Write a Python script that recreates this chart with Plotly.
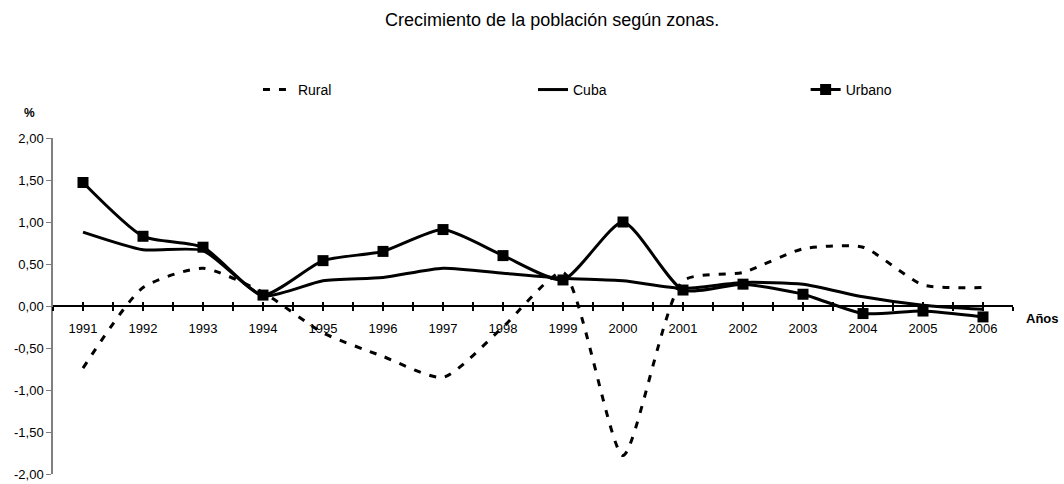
import plotly.graph_objects as go

years = [1991, 1992, 1993, 1994, 1995, 1996, 1997, 1998, 1999, 2000, 2001, 2002, 2003, 2004, 2005, 2006]
rural = [-0.74, 0.22, 0.45, 0.16, -0.32, -0.60, -0.85, -0.25, 0.40, -1.78, 0.30, 0.40, 0.68, 0.70, 0.25, 0.22]
cuba = [0.88, 0.67, 0.66, 0.12, 0.30, 0.34, 0.45, 0.39, 0.33, 0.30, 0.21, 0.28, 0.26, 0.11, 0.01, -0.04]
urbano = [1.47, 0.83, 0.70, 0.13, 0.54, 0.65, 0.91, 0.60, 0.31, 1.00, 0.19, 0.26, 0.14, -0.09, -0.06, -0.13]

y_ticks = [2.0, 1.5, 1.0, 0.5, 0.0, -0.5, -1.0, -1.5, -2.0]
y_labels = ["2,00", "1,50", "1,00", "0,50", "0,00", "-0,50", "-1,00", "-1,50", "-2,00"]

title_text = "Crecimiento de la población según zonas."
FONT = "Liberation Sans, Arial, sans-serif"
SMOOTH = 0.6

# tick positions: at each category and between categories
half_ticks = []
half_labels = []
for y in years:
    half_ticks += [y - 0.5, y]
    half_labels += ["", str(y)]
half_ticks.append(years[-1] + 0.5)
half_labels.append("")

fig = go.Figure()
fig.add_trace(go.Scatter(
    x=years, y=rural, name="Rural", mode="lines", legend="legend",
    line=dict(color="black", width=3, dash="7px,9px", shape="spline", smoothing=SMOOTH),
))
fig.add_trace(go.Scatter(
    x=years, y=cuba, name="Cuba", mode="lines", legend="legend2",
    line=dict(color="black", width=3, shape="spline", smoothing=SMOOTH),
))
fig.add_trace(go.Scatter(
    x=years, y=urbano, name="Urbano", mode="lines+markers", legend="legend3",
    line=dict(color="black", width=3, shape="spline", smoothing=SMOOTH),
    marker=dict(symbol="square", size=11, color="black"),
))

xrange = [years[0] - 0.5, years[-1] + 0.5]
leg_common = dict(orientation="h", y=1.143, xanchor="left", yanchor="middle",
                  xref="paper", yref="paper",
                  font=dict(family=FONT, size=14, color="black"),
                  bgcolor="rgba(0,0,0,0)", itemclick=False)

fig.update_layout(
    width=1064, height=484,
    margin=dict(l=53, r=51, t=138, b=10, autoexpand=False),
    paper_bgcolor="white", plot_bgcolor="white",
    font=dict(family=FONT, size=13, color="black"),
    title=dict(text=title_text, x=0.52, xref="paper", xanchor="center",
               y=1 - 20 / 484, yref="container", yanchor="middle",
               font=dict(family=FONT, size=18, color="black")),
    showlegend=True,
    legend=dict(x=0.2135, **leg_common),
    legend2=dict(x=0.5, **leg_common),
    legend3=dict(x=0.784, **leg_common),
    xaxis=dict(range=xrange, anchor="free", position=0.5,
               tickmode="array", tickvals=half_ticks, ticktext=half_labels,
               ticks="outside", ticklen=4, tickwidth=1.5, tickcolor="black",
               ticklabelstandoff=6,
               showline=True, linecolor="black", linewidth=2,
               showgrid=False, zeroline=False,
               tickfont=dict(family=FONT, size=13, color="black")),
    xaxis2=dict(range=xrange, overlaying="x", anchor="free", position=0.5,
                tickmode="array", tickvals=half_ticks, ticktext=["" for _ in half_ticks],
                ticks="inside", ticklen=4, tickwidth=1.5, tickcolor="black",
                showline=False, showgrid=False, zeroline=False, showticklabels=False),
    yaxis=dict(range=[-2, 2], tickmode="array", tickvals=y_ticks, ticktext=y_labels,
               ticks="outside", ticklen=5, tickwidth=1, tickcolor="#808080",
               showline=True, linecolor="#808080", linewidth=1.5,
               showgrid=False, zeroline=False,
               tickfont=dict(family=FONT, size=13, color="black")),
    annotations=[
        dict(text="<b>%</b>", x=-0.024, y=1.074, xref="paper", yref="paper",
             xanchor="center", yanchor="middle",
             showarrow=False, font=dict(family=FONT, size=12, color="black")),
        dict(text="<b>Años</b>", x=1.031, y=0.464, xref="paper", yref="paper",
             xanchor="center", yanchor="middle",
             showarrow=False, font=dict(family=FONT, size=13, color="black")),
    ],
)

# invisible trace to activate xaxis2
fig.add_trace(go.Scatter(x=[years[0]], y=[0], xaxis="x2", mode="markers",
                         marker=dict(opacity=0), showlegend=False, hoverinfo="skip"))

fig.write_html("out.html", config={"displayModeBar": False},
               post_script="document.body.style.margin='0';document.body.style.overflow='hidden';")
